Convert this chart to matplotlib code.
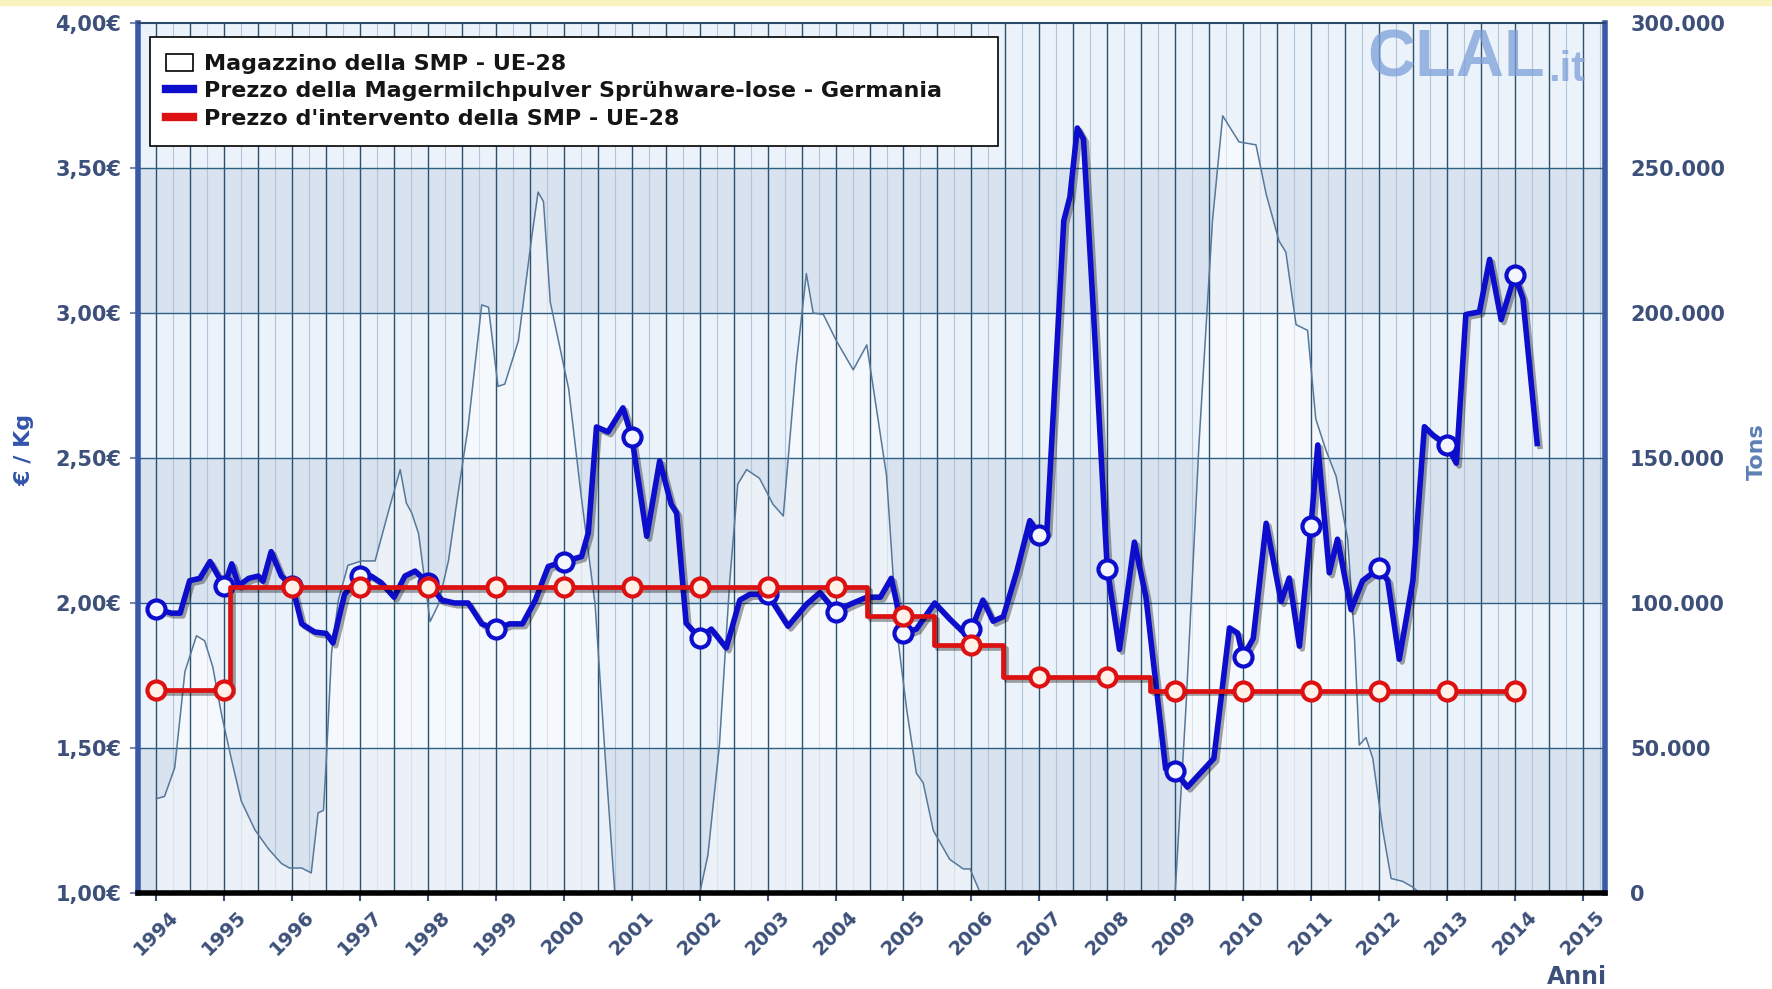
import numpy as np
import matplotlib
matplotlib.use("Agg")
import matplotlib.pyplot as plt
import matplotlib.patheffects as pe
from matplotlib.lines import Line2D
from matplotlib.patches import Patch, Rectangle

# prezzo SMP Germania (EUR/kg)
price_year = np.array([
    1994.0, 1994.22, 1994.35, 1994.49, 1994.64, 1994.79, 1994.91, 1995.0, 1995.11, 1995.21,
    1995.36, 1995.5, 1995.57, 1995.69, 1995.84, 1996.0, 1996.14, 1996.33, 1996.5, 1996.6,
    1996.77, 1997.0, 1997.16, 1997.31, 1997.5, 1997.66, 1997.81, 1998.0, 1998.2, 1998.39,
    1998.59, 1998.79, 1999.0, 1999.2, 1999.39, 1999.58, 1999.77, 2000.0, 2000.26, 2000.36,
    2000.48, 2000.65, 2000.87, 2001.0, 2001.22, 2001.41, 2001.58, 2001.66, 2001.8, 2002.0,
    2002.17, 2002.39, 2002.59, 2002.74, 2003.0, 2003.3, 2003.57, 2003.77, 2004.0, 2004.21,
    2004.46, 2004.66, 2004.82, 2005.0, 2005.19, 2005.46, 2005.68, 2005.9, 2006.0, 2006.17,
    2006.32, 2006.47, 2006.67, 2006.86, 2007.0, 2007.11, 2007.36, 2007.45, 2007.56, 2007.65,
    2007.8, 2008.0, 2008.18, 2008.4, 2008.57, 2008.86, 2009.0, 2009.18, 2009.57, 2009.8,
    2009.92, 2010.0, 2010.15, 2010.34, 2010.56, 2010.68, 2010.83, 2011.0, 2011.1, 2011.27,
    2011.39, 2011.59, 2011.76, 2012.0, 2012.13, 2012.3, 2012.5, 2012.67, 2012.79, 2013.0,
    2013.14, 2013.28, 2013.48, 2013.63, 2013.8, 2014.0, 2014.12, 2014.33])
price_eur = np.array([
    1.98, 1.965, 1.965, 2.077, 2.085, 2.143, 2.093, 2.06, 2.135, 2.06,
    2.085, 2.093, 2.075, 2.177, 2.093, 2.06, 1.928, 1.90, 1.895, 1.862,
    2.03, 2.093, 2.093, 2.07, 2.02, 2.093, 2.11, 2.07, 2.01, 2.0,
    2.0, 1.928, 1.91, 1.928, 1.928, 2.01, 2.126, 2.143, 2.16, 2.243,
    2.607, 2.59, 2.673, 2.573, 2.23, 2.49, 2.34, 2.31, 1.93, 1.879,
    1.91, 1.845, 2.01, 2.03, 2.03, 1.92, 1.995, 2.036, 1.97, 1.995,
    2.02, 2.02, 2.085, 1.895, 1.91, 2.0, 1.945, 1.895, 1.91, 2.01,
    1.937, 1.953, 2.11, 2.284, 2.234, 2.243, 3.318, 3.40, 3.638, 3.60,
    2.99, 2.118, 1.84, 2.21, 2.02, 1.428, 1.419, 1.365, 1.464, 1.914,
    1.896, 1.815, 1.878, 2.275, 2.005, 2.086, 1.851, 2.266, 2.545, 2.104,
    2.22, 1.977, 2.077, 2.12, 2.077, 1.806, 2.077, 2.608, 2.58, 2.545,
    2.482, 2.995, 3.004, 3.185, 2.977, 3.13, 3.05, 2.55])

# magazzino SMP UE-28 (tons)
stock_year = np.array([
    1994.0, 1994.12, 1994.27, 1994.42, 1994.59, 1994.71, 1994.83, 1994.96, 1995.1, 1995.25,
    1995.45, 1995.65, 1995.84, 1995.96, 1996.14, 1996.28, 1996.38, 1996.46, 1996.5, 1996.58,
    1996.68, 1996.82, 1997.02, 1997.22, 1997.41, 1997.59, 1997.68, 1997.76, 1997.86, 1998.03,
    1998.15, 1998.3, 1998.44, 1998.59, 1998.79, 1998.89, 1999.03, 1999.13, 1999.33, 1999.53,
    1999.62, 1999.7, 1999.8, 2000.07, 2000.26, 2000.46, 2000.6, 2000.75, 2002.0, 2002.12,
    2002.29, 2002.44, 2002.56, 2002.69, 2002.88, 2003.08, 2003.23, 2003.42, 2003.57, 2003.67,
    2003.82, 2004.01, 2004.26, 2004.46, 2004.6, 2004.75, 2004.9, 2005.05, 2005.19, 2005.29,
    2005.44, 2005.68, 2005.88, 2005.98, 2006.13, 2009.0, 2009.16, 2009.35, 2009.55, 2009.7,
    2009.94, 2010.19, 2010.34, 2010.53, 2010.63, 2010.78, 2010.95, 2011.07, 2011.22, 2011.37,
    2011.54, 2011.64, 2011.71, 2011.81, 2011.91, 2012.06, 2012.18, 2012.35, 2012.5, 2012.6,
    2014.33])
stock_tons = np.array([
    32500, 33300, 43200, 76300, 88700, 87000, 78000, 61500, 46600, 31700,
    21800, 15200, 10200, 8600, 8600, 6900, 27600, 28500, 45000, 83000,
    101000, 113000, 114500, 114500, 131000, 146000, 134500, 131000, 124000, 93600,
    99400, 114500, 137500, 160700, 202800, 202000, 174700, 175500, 190400, 226800,
    241700, 238400, 203700, 173900, 135900, 99400, 49800, 0, 0, 13000,
    51000, 107000, 141000, 146000, 143000, 134000, 130000, 182000, 213600, 200000,
    199500, 190500, 180400, 189000, 167300, 144000, 91000, 62800, 41300, 38000,
    21500, 11600, 8300, 8300, 0, 0, 64400, 154500, 232000, 268000,
    259000, 258000, 241000, 224800, 221000, 196000, 194000, 163500, 152700, 143700,
    122000, 88000, 51000, 53600, 46400, 21200, 5000, 4000, 2000, 0,
    0])

# prezzo d'intervento (EUR/kg), valori a gradino
int_year = np.array([1994.0, 1995.08, 2004.47, 2005.45, 2006.47, 2008.63, 2014.0])
int_price = np.array([1.70, 2.055, 1.955, 1.855, 1.745, 1.698, 1.698])

years = np.arange(1994, 2016)
labels = ["Magazzino della SMP - UE-28",
          "Prezzo della Magermilchpulver Sprühware-lose - Germania",
          "Prezzo d'intervento della SMP - UE-28"]

BLUE = "#0d0dcc"
RED = "#dd1111"
TXT = "#3d5079"

fig = plt.figure(figsize=(17.72, 9.89), dpi=100)
fig.patches.append(Rectangle((0, 0.995), 1, 0.005, transform=fig.transFigure,
                             color="#fbf3bf", zorder=0))
ax = fig.add_axes([0.0779, 0.0971, 0.8279, 0.8796])
ax2 = ax.twinx()
ax.set_zorder(ax2.get_zorder() + 1)
ax.patch.set_visible(False)
ax2.set_facecolor("#e8eff8")

ax.set_xlim(1993.73, 2015.33)
ax.set_ylim(1, 4)
ax2.set_ylim(0, 300000)

# bande orizzontali alternate
for i, lo in enumerate(range(0, 300000, 50000)):
    c = "#d9e2ef" if i % 2 == 0 else "#ebf2fa"
    ax2.axhspan(lo, lo + 50000, color=c, lw=0, zorder=0)

# griglia
for x in np.arange(1993.75, 2015.33, 0.5):
    ax2.axvline(x, color="#b3c5d8", lw=0.8, zorder=0.5)
for x in np.arange(1994, 2015.01, 0.5):
    ax2.axvline(x, color="#2b5370", lw=1.0, zorder=1.5)
for t in range(50000, 300000, 50000):
    ax2.axhline(t, color="#2b6080", lw=1.0, zorder=1.5)

# magazzino
ax2.fill_between(stock_year, stock_tons, 0, color="white", alpha=0.5, lw=0, zorder=1)
ax2.plot(stock_year, stock_tons, color="#56789a", lw=1.1, zorder=2)

shadow = [pe.SimpleLineShadow(offset=(2, -2), alpha=0.35), pe.Normal()]

# prezzo Germania
ax.plot(price_year, price_eur, color=BLUE, lw=4.0, zorder=3, path_effects=shadow)
mask = np.isclose(price_year, np.round(price_year))
ax.plot(price_year[mask], price_eur[mask], ls="none", marker="o", ms=13,
        mfc="#f4f6ff", mec=BLUE, mew=3, zorder=4)

# prezzo d'intervento
ax.plot(int_year, int_price, drawstyle="steps-post", color=RED, lw=3.4, zorder=5,
        path_effects=shadow)
mk_years = years[years <= 2014]
mk_vals = int_price[np.searchsorted(int_year, mk_years, side="right") - 1]
ax.plot(mk_years, mk_vals, ls="none", marker="o", ms=13, mfc="#fff0e8", mec=RED,
        mew=3, zorder=6)

# assi
ax.set_xticks(years)
ax.set_xticklabels([str(y) for y in years], rotation=45, ha="center", va="top",
                   fontsize=14, fontweight="bold", color=TXT)
ax.tick_params(axis="x", length=6, width=1.5, color=TXT, pad=4)

yt = np.arange(1, 4.01, 0.5)
ax.set_yticks(yt)
ax.set_yticklabels([f"{v:.2f}".replace(".", ",") + "€" for v in yt],
                   fontsize=15, fontweight="bold", color=TXT)
ax.tick_params(axis="y", length=6, width=1.5, color="#7a8aa8", pad=6)

st = np.arange(0, 300001, 50000)
ax2.set_yticks(st)
ax2.set_yticklabels([f"{v:,}".replace(",", ".") for v in st],
                    fontsize=15, fontweight="bold", color=TXT)
ax2.tick_params(axis="y", length=0, pad=18)

for s in ax2.spines.values():
    s.set_visible(False)
ax.spines["left"].set_color("#3a5aa8")
ax.spines["left"].set_linewidth(4)
ax.spines["right"].set_color("#3a5aa8")
ax.spines["right"].set_linewidth(4)
ax.spines["bottom"].set_color("black")
ax.spines["bottom"].set_linewidth(4)
ax.spines["top"].set_color("#2a4a6a")
ax.spines["top"].set_linewidth(1.5)

# logo
logo = ax.text(0.838, 0.923, "CLAL", transform=ax.transAxes, fontsize=48,
               fontweight="bold", family="Liberation Sans", color="#7d9fd8",
               alpha=0.75, ha="left", va="bottom", zorder=1)
ax.annotate(".it", xy=(1, 0), xycoords=logo, xytext=(2, 0), textcoords="offset points",
            fontsize=30, fontweight="bold", family="Liberation Sans", color="#7d9fd8",
            alpha=0.75, ha="left", va="bottom", zorder=1)

# legenda
handles = [Patch(fc="white", ec="black", lw=1.2),
           Line2D([], [], color=BLUE, lw=6),
           Line2D([], [], color=RED, lw=6)]
leg = ax.legend(handles, labels, loc="upper left",
                bbox_to_anchor=(0.008, 0.5, 0.578, 0.484), mode="expand",
                frameon=True, fancybox=False, edgecolor="black", framealpha=1,
                prop={"size": 16, "weight": "bold"}, borderpad=0.75, labelspacing=0.33,
                handlelength=1.2, handleheight=0.8, handletextpad=0.5, borderaxespad=0)
leg.get_frame().set_linewidth(1.2)
leg.set_zorder(10)
for t in leg.get_texts():
    t.set_color("#151515")

fig.text(0.014, 0.545, "€ / Kg", rotation=90, ha="center", va="center",
         fontsize=16, fontweight="bold", color="#3355aa")
fig.text(0.9916, 0.543, "Tons", rotation=90, ha="center", va="center",
         fontsize=16, fontweight="bold", color="#5d7fb5")
fig.text(0.89, 0.0, "Anni", ha="center", va="bottom",
         fontsize=17, fontweight="bold", color=TXT)

fig.savefig("out.png", dpi=100, facecolor="white")
